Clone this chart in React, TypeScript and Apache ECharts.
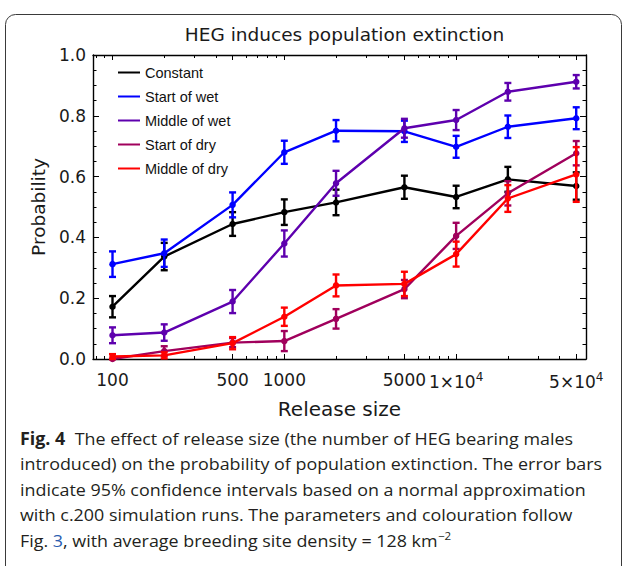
import React, { useEffect, useRef } from 'react';
import * as echarts from 'echarts';

// Release sizes (number of HEG bearing males introduced)
const releaseSizes = [100, 200, 500, 1000, 2000, 5000, 10000, 20000, 50000];

// Extinction probability and 95% CI half-width for each release timing
const constantP = [0.172, 0.337, 0.444, 0.483, 0.515, 0.565, 0.533, 0.591, 0.569];
const constantErr = [0.035, 0.045, 0.039, 0.042, 0.042, 0.038, 0.037, 0.041, 0.045];

const startWetP = [0.312, 0.348, 0.507, 0.68, 0.751, 0.749, 0.698, 0.764, 0.792];
const startWetErr = [0.042, 0.045, 0.041, 0.038, 0.035, 0.035, 0.036, 0.037, 0.036];

const middleWetP = [0.078, 0.087, 0.189, 0.38, 0.578, 0.759, 0.786, 0.879, 0.912];
const middleWetErr = [0.026, 0.027, 0.038, 0.043, 0.041, 0.031, 0.033, 0.029, 0.022];

const startDryP = [0.0, 0.026, 0.054, 0.059, 0.132, 0.23, 0.405, 0.545, 0.677];
const startDryErr = [0.0, 0.016, 0.015, 0.033, 0.032, 0.03, 0.043, 0.04, 0.04];

const middleDryP = [0.008, 0.012, 0.052, 0.139, 0.242, 0.247, 0.345, 0.528, 0.607];
const middleDryErr = [0.008, 0.01, 0.02, 0.03, 0.036, 0.04, 0.041, 0.044, 0.09];

const seriesNames = ['Constant', 'Start of wet', 'Middle of wet', 'Start of dry', 'Middle of dry'];
const seriesColors = ['#000000', '#0000ff', '#5e00ae', '#a0005c', '#ff0000'];
const seriesValues = [constantP, startWetP, middleWetP, startDryP, middleDryP];
const seriesErrors = [constantErr, startWetErr, middleWetErr, startDryErr, middleDryErr];

// Axis ticks
const xMajorTicks = [100, 500, 1000, 5000, 10000, 50000];
const xMinorTicks = [80, 90, 200, 300, 400, 600, 700, 800, 900, 2000, 3000, 4000, 6000, 7000, 8000, 9000, 20000, 30000, 40000];
const xMin = 77;
const xMax = 57000;

const titleText = 'HEG induces population extinction';
const xName = 'Release size';
const yName = 'Probability';

const captionLines = [
  '{b|Fig. 4}  The effect of release size (the number of HEG bearing males',
  'introduced) on the probability of population extinction. The error bars',
  'indicate 95% confidence intervals based on a normal approximation',
  'with c.200 simulation runs. The parameters and colouration follow',
  'Fig. {l|3}, with average breeding site density = 128 km{s|\u22122}',
];

const TICK_FONT = 'DejaVu Sans';
const CAPTION_FONT = 'Open Sans';

function formatSize(v: number): string {
  const n = Math.round(v);
  if (n >= 10000) return `{m|${n / 10000}×10}{e|4}`;
  return `{m|${n}}`;
}

export default function App() {
  const ref = useRef<HTMLDivElement>(null);

  useEffect(() => {
    if (!ref.current) return;
    const chart = echarts.init(ref.current, null, { renderer: 'svg' });

    // squeeze the caption font to the column width
    const ctx = document.createElement('canvas').getContext('2d');
    let capScale = 0.9;
    if (ctx) {
      ctx.font = `17px "${CAPTION_FONT}"`;
      const w = ctx.measureText(captionLines[1]).width;
      if (w > 0) capScale = 583 / w;
    }

    const lineSeries = seriesNames.map((name, k) => ({
      name,
      type: 'line',
      data: releaseSizes.map((x, i) => [x, seriesValues[k][i]]),
      symbol: 'circle',
      symbolSize: 6.5,
      lineStyle: { width: 2.4, color: seriesColors[k] },
      itemStyle: { color: seriesColors[k] },
      z: 10 + k * 2,
    }));

    const errorSeries = seriesNames.map((name, k) => ({
      name: `${name} CI`,
      type: 'custom',
      data: releaseSizes.map((x, i) => [x, seriesValues[k][i] - seriesErrors[k][i], seriesValues[k][i] + seriesErrors[k][i]]),
      encode: { x: 0, y: [1, 2] },
      z: 11 + k * 2,
      renderItem: (_params: any, api: any) => {
        const x = api.value(0);
        const lo = api.value(1);
        const hi = api.value(2);
        const top = api.coord([x, hi]);
        const bot = api.coord([x, lo]);
        const cap = 3.5;
        const style = { stroke: seriesColors[k], lineWidth: 2.4 };
        return {
          type: 'group',
          children: [
            { type: 'line', shape: { x1: top[0], y1: top[1], x2: bot[0], y2: bot[1] }, style },
            { type: 'line', shape: { x1: top[0] - cap, y1: top[1], x2: top[0] + cap, y2: top[1] }, style },
            { type: 'line', shape: { x1: bot[0] - cap, y1: bot[1], x2: bot[0] + cap, y2: bot[1] }, style },
          ],
        };
      },
    }));

    const axisLine = { show: true, onZero: false, lineStyle: { color: '#000', width: 1.4 } };
    const noLine = { show: false, onZero: false };

    const logAxis = (position: string, ticks: number[], len: number, withLine: boolean, withLabels: boolean) => ({
      type: 'log',
      logBase: 10,
      min: xMin,
      max: xMax,
      position,
      axisLine: withLine ? axisLine : noLine,
      axisTick: { show: true, inside: true, length: len, customValues: ticks, lineStyle: { color: '#000', width: 1 } },
      axisLabel: withLabels
        ? {
            show: true,
            customValues: ticks,
            margin: 12,
            hideOverlap: false,
            formatter: formatSize,
            rich: {
              m: { fontFamily: TICK_FONT, fontSize: 17, color: '#1a1a1a' },
              e: { fontFamily: TICK_FONT, fontSize: 12, color: '#1a1a1a', verticalAlign: 'top', padding: [0, 0, 9, 0] },
            },
          }
        : { show: false },
      splitLine: { show: false },
      minorTick: { show: false },
      ...(withLabels
        ? {
            name: xName,
            nameLocation: 'middle',
            nameGap: 40,
            nameTextStyle: { fontFamily: TICK_FONT, fontSize: 20, color: '#1a1a1a' },
          }
        : {}),
    });

    const valueAxis = (position: string, withLabels: boolean) => ({
      type: 'value',
      min: 0,
      max: 1,
      interval: 0.2,
      position,
      axisLine,
      axisTick: { show: true, inside: true, length: 6, lineStyle: { color: '#000', width: 1 } },
      minorTick: { show: true, splitNumber: 4, length: 3.5, lineStyle: { color: '#000', width: 1 } },
      axisLabel: withLabels
        ? { show: true, margin: 7, fontFamily: TICK_FONT, fontSize: 17, color: '#1a1a1a', formatter: (v: number) => v.toFixed(1) }
        : { show: false },
      splitLine: { show: false },
      ...(withLabels
        ? {
            name: yName,
            nameLocation: 'middle',
            nameGap: 43,
            nameRotate: 90,
            nameTextStyle: { fontFamily: TICK_FONT, fontSize: 18.5, color: '#1a1a1a' },
          }
        : {}),
    });

    const captionGraphics = captionLines.map((line, i) => ({
      type: 'text',
      x: 20,
      y: 438 + i * 25.5,
      scaleX: capScale,
      style: {
        text: line,
        fontFamily: CAPTION_FONT,
        fontSize: 17,
        fill: '#231f20',
        verticalAlign: 'middle',
        rich: {
          b: { fontFamily: CAPTION_FONT, fontSize: 17, fontWeight: 'bold', fill: '#231f20' },
          l: { fontFamily: CAPTION_FONT, fontSize: 17, fill: '#2a5db0' },
          s: { fontFamily: CAPTION_FONT, fontSize: 11, fill: '#231f20', verticalAlign: 'top', padding: [0, 0, 8, 0] },
        },
      },
    }));

    chart.setOption({
      animation: false,
      backgroundColor: '#ffffff',
      title: {
        text: titleText,
        left: 339.5,
        top: 20,
        textAlign: 'center',
        textStyle: { fontFamily: TICK_FONT, fontSize: 18.5, fontWeight: 'normal', color: '#1a1a1a' },
      },
      legend: {
        data: seriesNames.map((name) => ({ name, icon: 'rect' })),
        orient: 'vertical',
        left: 113,
        top: 60,
        itemWidth: 22,
        itemHeight: 2,
        itemGap: 9,
        selectedMode: false,
        textStyle: { fontFamily: 'Liberation Sans', fontSize: 14.5, color: '#111', lineHeight: 14 },
      },
      grid: { left: 93, right: 38, top: 55, bottom: 207, containLabel: false },
      xAxis: [
        logAxis('bottom', xMajorTicks, 5, true, true),
        logAxis('bottom', xMinorTicks, 3, false, false),
        logAxis('top', xMajorTicks, 5, true, false),
        logAxis('top', xMinorTicks, 3, false, false),
      ],
      yAxis: [valueAxis('left', true), valueAxis('right', false)],
      graphic: [
        {
          type: 'rect',
          shape: { x: 5.5, y: 14.5, width: 616, height: 620, r: 10 },
          style: { fill: 'none', stroke: '#3a3a3a', lineWidth: 1 },
          silent: true,
        },
        ...captionGraphics,
      ],
      series: [...lineSeries, ...errorSeries],
    });

    return () => chart.dispose();
  }, []);

  return (
    <div
      ref={ref}
      style={{ position: 'fixed', left: 0, top: 0, width: 624, height: 566, background: '#fff' }}
    />
  );
}
